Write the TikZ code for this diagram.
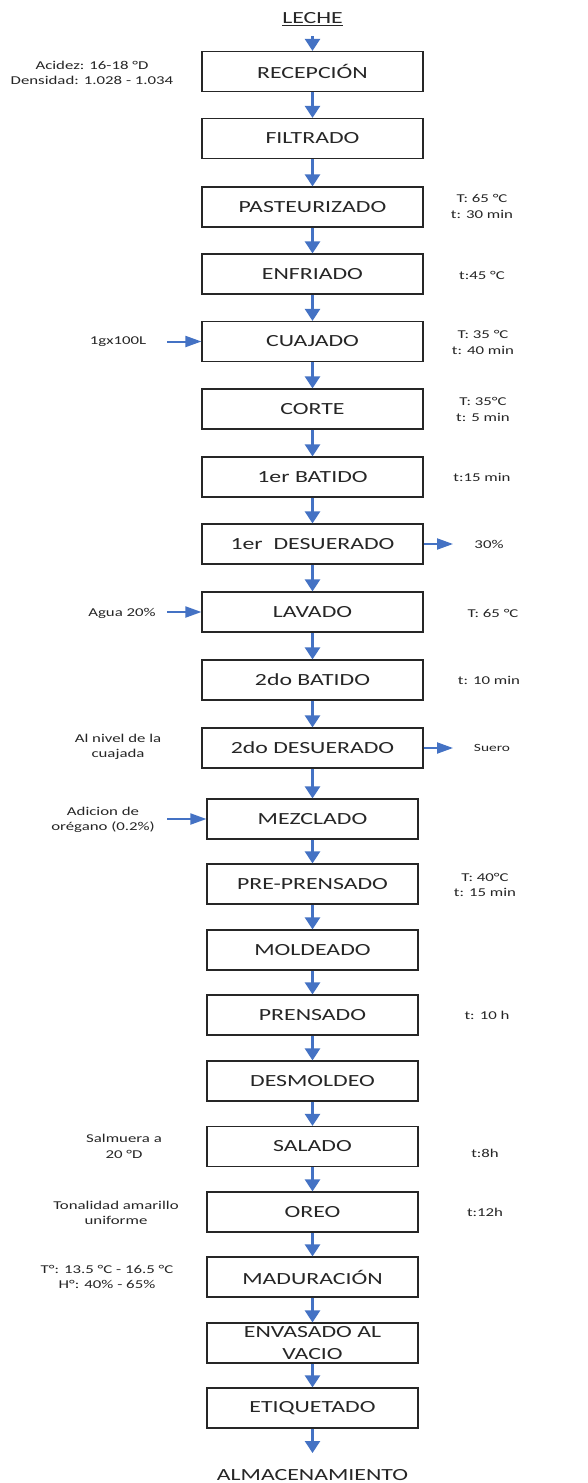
\documentclass[tikz,border=0pt]{standalone}
\usepackage{fontspec}
\setmainfont{Carlito}[FakeStretch=1.4]
\usetikzlibrary{arrows.meta}
\definecolor{ablue}{HTML}{4472C4}
\definecolor{txt}{HTML}{262626}
\begin{document}
\begin{tikzpicture}[x=1pt,y=-1pt,
  stepbox/.style={draw=txt, line width=1.2pt, minimum width=221pt, minimum height=40pt, inner sep=0pt, font=\fontsize{17}{21}\selectfont, text=txt, align=center},
  stepboxb/.style={stepbox, minimum width=211pt},
  bigtext/.style={inner sep=0pt, font=\fontsize{17}{21}\selectfont, text=txt},
  note/.style={inner sep=0pt, font=\fontsize{12}{15.5}\selectfont, text=txt, align=center},
  varrow/.style={draw=ablue, line width=2.6pt, -{Triangle[length=12pt,width=15pt]}},
  harrow/.style={draw=ablue, line width=2pt, -{Triangle[length=16pt,width=11pt]}}]
\useasboundingbox (0,0) rectangle (587,1483);
\fill[white] (0,0) rectangle (587,1483);

% main column
\node[bigtext] (leche) at (312.5,19) {\underline{LECHE}};
\coordinate (lecheout) at (312.5,36);
\node[stepbox] (b1) at (312.5,71.5) {RECEPCIÓN};
\node[stepbox] (b2) at (312.5,138.5) {FILTRADO};
\node[stepbox] (b3) at (312.5,207) {PASTEURIZADO};
\node[stepbox] (b4) at (312.5,274) {ENFRIADO};
\node[stepbox] (b5) at (312.5,341.5) {CUAJADO};
\node[stepbox] (b6) at (312.5,409) {CORTE};
\node[stepbox] (b7) at (312.5,477) {1er BATIDO};
\node[stepbox] (b8) at (312.5,544) {1er\ \ DESUERADO};
\node[stepbox] (b9) at (312.5,612) {LAVADO};
\node[stepbox] (b10) at (312.5,680) {2do BATIDO};
\node[stepbox] (b11) at (312.5,748) {2do DESUERADO};
\node[stepboxb] (b12) at (312.5,819) {MEZCLADO};
\node[stepboxb] (b13) at (312.5,884) {PRE-PRENSADO};
\node[stepboxb] (b14) at (312.5,950) {MOLDEADO};
\node[stepboxb] (b15) at (312.5,1015) {PRENSADO};
\node[stepboxb] (b16) at (312.5,1081) {DESMOLDEO};
\node[stepboxb] (b17) at (312.5,1146.5) {SALADO};
\node[stepboxb] (b18) at (312.5,1212) {OREO};
\node[stepboxb] (b19) at (312.5,1277) {MADURACIÓN};
\node[stepboxb, font=\fontsize{17}{22}\selectfont] (b20) at (312.5,1343) {ENVASADO AL\\VACIO};
\node[stepboxb] (b21) at (312.5,1408) {ETIQUETADO};
\node[bigtext] (alm) at (312.5,1475) {ALMACENAMIENTO};
\coordinate (almin) at (312.5,1453);

\draw[varrow] (lecheout) -- (b1.north);
\foreach \a/\b in {1/2,2/3,3/4,4/5,5/6,6/7,7/8,8/9,9/10,10/11,11/12,12/13,13/14,14/15,15/16,16/17,17/18,18/19,19/20,20/21}
  \draw[varrow] (b\a.south) -- (b\b.north);
\draw[varrow] (b21.south) -- (almin);

% left notes
\node[note] (n1) at (92,73) {Acidez: 16-18 °D\\Densidad: 1.028 - 1.034};
\node[note] (n5) at (118,342) {1gx100L};
\coordinate (in5) at (167,341.5);
\draw[harrow] (in5) -- (b5.west);
\node[note] (n9) at (122,613) {Agua 20\%};
\coordinate (in9) at (167,612);
\draw[harrow] (in9) -- (b9.west);
\node[note] (n11) at (118,747) {Al nivel de la\\cuajada};
\node[note] (n12) at (103,820) {Adicion de\\orégano (0.2\%)};
\coordinate (in12) at (167,819);
\draw[harrow] (in12) -- (b12.west);
\node[note] (n17) at (124,1146.5) {Salmuera a\\20 °D};
\node[note] (n18) at (116,1213) {Tonalidad amarillo\\uniforme};
\node[note] (n19) at (107,1277) {T°: 13.5 °C - 16.5 °C\\H°: 40\% - 65\%};

% right notes
\node[note] (r3) at (482,206.5) {T: 65 °C\\t: 30 min};
\node[note] (r4) at (482,275) {t:45 °C};
\node[note] (r5) at (483,342.5) {T: 35 °C\\t: 40 min};
\node[note] (r6) at (483,409.5) {T: 35°C\\t: 5 min};
\node[note] (r7) at (482,477) {t:15 min};
\coordinate (out8) at (453,544);
\draw[harrow] (b8.east) -- (out8);
\node[note] (r8) at (489,544) {30\%};
\node[note] (r9) at (493,613) {T: 65 °C};
\node[note] (r10) at (489,680) {t: 10 min};
\coordinate (out11) at (453,748);
\draw[harrow] (b11.east) -- (out11);
\node[note, font=\fontsize{11}{14}\selectfont] (r11) at (492,748) {Suero};
\node[note] (r13) at (485,885) {T: 40°C\\t: 15 min};
\node[note] (r15) at (487,1015) {t: 10 h};
\node[note] (r17) at (485,1153) {t:8h};
\node[note] (r18) at (485,1212) {t:12h};
\end{tikzpicture}
\end{document}
